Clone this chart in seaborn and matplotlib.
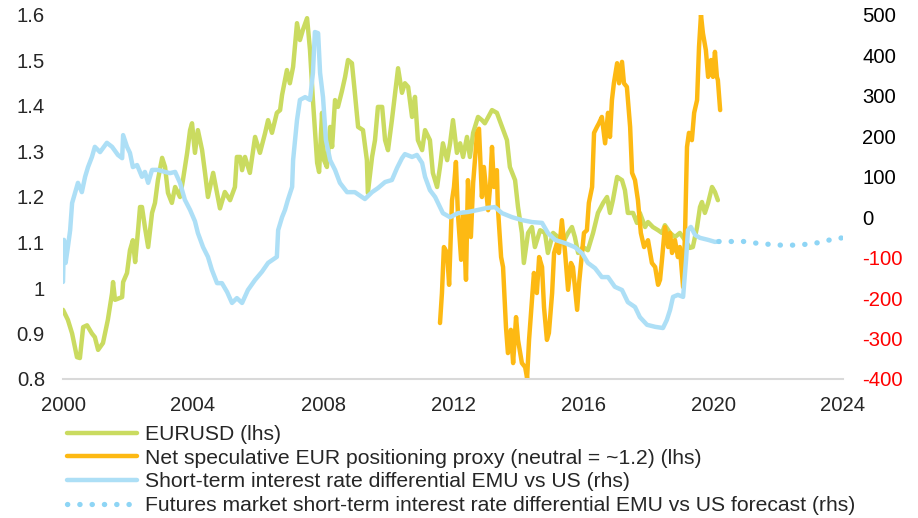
import matplotlib
matplotlib.use("Agg")
import matplotlib.pyplot as plt
import seaborn as sns
import numpy as np
from matplotlib.lines import Line2D
from matplotlib.ticker import FuncFormatter, MultipleLocator

# Datos (años decimales)
eurusd_year = [2000.00, 2000.15, 2000.28, 2000.43, 2000.52, 2000.62, 2000.74, 2000.89, 2000.98, 2001.08,
               2001.23, 2001.38, 2001.51, 2001.54, 2001.60, 2001.82, 2001.85, 2001.97, 2002.06, 2002.15,
               2002.22, 2002.31, 2002.37, 2002.43, 2002.52, 2002.62, 2002.74, 2002.83, 2002.92, 2003.05,
               2003.14, 2003.23, 2003.35, 2003.45, 2003.60, 2003.69, 2003.82, 2003.91, 2003.97, 2004.06,
               2004.15, 2004.28, 2004.37, 2004.46, 2004.62, 2004.74, 2004.83, 2004.98, 2005.14, 2005.29,
               2005.35, 2005.45, 2005.51, 2005.60, 2005.75, 2005.91, 2006.06, 2006.22, 2006.31, 2006.43,
               2006.58, 2006.68, 2006.74, 2006.89, 2006.98, 2007.08, 2007.20, 2007.29, 2007.38, 2007.51,
               2007.60, 2007.69, 2007.82, 2007.88, 2007.97, 2008.03, 2008.12, 2008.22, 2008.28, 2008.37,
               2008.46, 2008.58, 2008.68, 2008.77, 2008.89, 2008.98, 2009.08, 2009.23, 2009.35, 2009.38,
               2009.51, 2009.60, 2009.69, 2009.82, 2009.91, 2010.00, 2010.12, 2010.22, 2010.31, 2010.43,
               2010.52, 2010.62, 2010.74, 2010.83, 2010.92, 2011.05, 2011.14, 2011.29, 2011.38, 2011.51,
               2011.60, 2011.69, 2011.82, 2011.91, 2012.00, 2012.12, 2012.22, 2012.31, 2012.43, 2012.52,
               2012.62, 2012.77, 2012.89, 2012.98, 2013.20, 2013.35, 2013.51, 2013.66, 2013.75, 2013.91,
               2014.00, 2014.12, 2014.18, 2014.31, 2014.43, 2014.52, 2014.68, 2014.83, 2014.92, 2015.08,
               2015.23, 2015.38, 2015.54, 2015.66, 2015.75, 2015.85, 2016.00, 2016.15, 2016.31, 2016.46,
               2016.62, 2016.74, 2016.83, 2016.92, 2017.05, 2017.20, 2017.29, 2017.38, 2017.54, 2017.66,
               2017.75, 2017.91, 2018.00, 2018.15, 2018.31, 2018.43, 2018.52, 2018.68, 2018.83, 2018.98,
               2019.14, 2019.29, 2019.38, 2019.51, 2019.60, 2019.66, 2019.75, 2019.85, 2019.97, 2020.06,
               2020.15]
eurusd = [0.952, 0.930, 0.900, 0.848, 0.846, 0.914, 0.918, 0.900, 0.892, 0.864,
          0.879, 0.930, 0.989, 1.013, 0.974, 0.980, 1.013, 1.033, 1.083, 1.105,
          1.057, 1.127, 1.178, 1.178, 1.134, 1.090, 1.165, 1.187, 1.237, 1.286,
          1.266, 1.209, 1.187, 1.222, 1.200, 1.237, 1.297, 1.347, 1.362, 1.297,
          1.347, 1.303, 1.253, 1.200, 1.253, 1.209, 1.175, 1.211, 1.193, 1.222,
          1.288, 1.288, 1.259, 1.288, 1.253, 1.332, 1.297, 1.341, 1.369, 1.341,
          1.385, 1.391, 1.424, 1.479, 1.450, 1.486, 1.582, 1.545, 1.567, 1.593,
          1.523, 1.413, 1.275, 1.255, 1.385, 1.281, 1.266, 1.354, 1.310, 1.413,
          1.398, 1.432, 1.464, 1.501, 1.494, 1.429, 1.354, 1.347, 1.281, 1.209,
          1.288, 1.325, 1.398, 1.398, 1.325, 1.303, 1.369, 1.429, 1.483, 1.429,
          1.450, 1.442, 1.376, 1.420, 1.325, 1.303, 1.347, 1.325, 1.253, 1.222,
          1.266, 1.318, 1.281, 1.318, 1.369, 1.297, 1.318, 1.288, 1.332, 1.288,
          1.341, 1.376, 1.369, 1.362, 1.391, 1.385, 1.354, 1.325, 1.266, 1.237,
          1.178, 1.121, 1.055, 1.121, 1.134, 1.090, 1.127, 1.121, 1.077, 1.121,
          1.112, 1.099, 1.121, 1.134, 1.112, 1.077, 1.090, 1.083, 1.121, 1.165,
          1.187, 1.200, 1.165, 1.193, 1.244, 1.237, 1.215, 1.165, 1.165, 1.143,
          1.165, 1.134, 1.145, 1.134, 1.127, 1.121, 1.138, 1.121, 1.112, 1.121,
          1.105, 1.088, 1.090, 1.134, 1.178, 1.189, 1.165, 1.187, 1.222, 1.211,
          1.193]

posit_year = [2011.60, 2011.66, 2011.72, 2011.82, 2011.88, 2011.97, 2012.03, 2012.09, 2012.15, 2012.25,
              2012.31, 2012.40, 2012.46, 2012.55, 2012.62, 2012.74, 2012.80, 2012.89, 2012.95, 2013.08,
              2013.14, 2013.20, 2013.26, 2013.35, 2013.38, 2013.48, 2013.54, 2013.63, 2013.69, 2013.78,
              2013.85, 2013.94, 2014.00, 2014.12, 2014.22, 2014.28, 2014.34, 2014.43, 2014.49, 2014.58,
              2014.65, 2014.74, 2014.80, 2014.89, 2014.95, 2015.05, 2015.11, 2015.20, 2015.26, 2015.35,
              2015.45, 2015.54, 2015.63, 2015.69, 2015.82, 2015.88, 2015.97, 2016.03, 2016.12, 2016.18,
              2016.28, 2016.34, 2016.43, 2016.49, 2016.58, 2016.68, 2016.77, 2016.83, 2016.89, 2016.95,
              2017.05, 2017.11, 2017.20, 2017.26, 2017.35, 2017.45, 2017.51, 2017.60, 2017.69, 2017.78,
              2017.88, 2018.00, 2018.12, 2018.22, 2018.31, 2018.37, 2018.43, 2018.52, 2018.62, 2018.68,
              2018.74, 2018.83, 2018.92, 2018.98, 2019.08, 2019.14, 2019.20, 2019.26, 2019.35, 2019.42,
              2019.51, 2019.57, 2019.63, 2019.69, 2019.78, 2019.85, 2019.94, 2020.00, 2020.06, 2020.12,
              2020.15, 2020.22]
posit = [0.923, 0.989, 1.090, 1.077, 1.007, 1.193, 1.222, 1.277, 1.165, 1.062,
         1.165, 1.018, 1.237, 1.112, 1.231, 1.340, 1.350, 1.200, 1.266, 1.171,
         1.222, 1.310, 1.222, 1.259, 1.178, 1.068, 1.046, 0.914, 0.857, 0.908,
         0.835, 0.936, 0.886, 0.835, 0.826, 0.802, 0.886, 0.974, 1.033, 0.989,
         1.068, 1.046, 0.958, 0.886, 0.901, 0.989, 1.077, 1.099, 1.077, 1.149,
         1.077, 0.996, 1.055, 1.046, 0.952, 1.011, 1.077, 1.121, 1.127, 1.187,
         1.222, 1.341, 1.354, 1.362, 1.376, 1.318, 1.385, 1.332, 1.413, 1.450,
         1.494, 1.450, 1.497, 1.450, 1.442, 1.354, 1.253, 1.237, 1.193, 1.121,
         1.090, 1.105, 1.055, 1.046, 1.007, 1.018, 1.062, 1.134, 1.090, 1.121,
         1.077, 1.105, 1.068, 1.090, 1.002, 1.121, 1.310, 1.341, 1.325, 1.385,
         1.413, 1.530, 1.600, 1.560, 1.523, 1.464, 1.501, 1.464, 1.519, 1.464,
         1.457, 1.391]

diff_year = [2000.00, 2000.03, 2000.08, 2000.15, 2000.22, 2000.28, 2000.37, 2000.46, 2000.58, 2000.68,
             2000.77, 2000.89, 2000.98, 2001.14, 2001.35, 2001.51, 2001.69, 2001.82, 2001.85, 2001.97,
             2002.06, 2002.15, 2002.28, 2002.43, 2002.52, 2002.62, 2002.74, 2002.92, 2003.14, 2003.29,
             2003.45, 2003.60, 2003.75, 2003.91, 2004.06, 2004.15, 2004.31, 2004.46, 2004.58, 2004.74,
             2004.89, 2005.05, 2005.20, 2005.35, 2005.51, 2005.69, 2005.91, 2006.12, 2006.31, 2006.58,
             2006.62, 2006.74, 2006.83, 2006.92, 2007.05, 2007.08, 2007.20, 2007.29, 2007.45, 2007.60,
             2007.69, 2007.75, 2007.85, 2007.91, 2008.00, 2008.09, 2008.22, 2008.37, 2008.52, 2008.74,
             2008.98, 2009.29, 2009.51, 2009.69, 2009.91, 2010.12, 2010.28, 2010.43, 2010.52, 2010.74,
             2010.89, 2011.05, 2011.14, 2011.29, 2011.45, 2011.54, 2011.69, 2011.91, 2012.15, 2012.46,
             2012.77, 2013.05, 2013.29, 2013.51, 2013.82, 2014.12, 2014.43, 2014.74, 2014.92, 2015.14,
             2015.45, 2015.75, 2015.97, 2016.15, 2016.37, 2016.58, 2016.77, 2016.98, 2017.20, 2017.38,
             2017.60, 2017.75, 2017.97, 2018.22, 2018.46, 2018.58, 2018.68, 2018.77, 2018.92, 2019.08,
             2019.17, 2019.23, 2019.32, 2019.45, 2019.60, 2019.85, 2020.06, 2020.18]
diff = [-160, -56, -113, -74, -32, 35, 60, 85, 62, 100,
        124, 149, 174, 161, 184, 174, 154, 146, 203, 174,
        159, 124, 129, 100, 112, 85, 117, 117, 112, 109,
        112, 85, 43, 18, -10, -39, -74, -98, -130, -163,
        -163, -185, -212, -200, -212, -180, -155, -135, -113, -98,
        -32, 0, 18, 43, 75, 141, 240, 290, 297, 290,
        357, 458, 455, 357, 297, 191, 141, 117, 85, 62,
        62, 45, 62, 72, 87, 92, 122, 146, 156, 149,
        154, 134, 100, 67, 50, 35, 10, 0, 10, 13,
        18, 23, 25, 10, 0, -7, -12, -14, -39, -56,
        -64, -74, -89, -113, -126, -148, -148, -172, -180, -210,
        -222, -247, -266, -271, -274, -254, -229, -197, -192, -197,
        -106, -32, -24, -44, -51, -56, -61, -60]

fcst_year = [2020.18, 2020.58, 2020.95, 2021.32, 2021.72, 2022.09, 2022.49, 2022.86, 2023.23, 2023.60, 2023.97]
fcst = [-60, -60, -60, -64, -67, -69, -69, -67, -63, -56, -51]

labels = ["EURUSD (lhs)",
          "Net speculative EUR positioning proxy (neutral = ~1.2) (lhs)",
          "Short-term interest rate differential EMU vs US (rhs)",
          "Futures market short-term interest rate differential EMU vs US forecast (rhs)"]

c_green = "#CADB60"
c_orange = "#FDB913"
c_blue = "#ADDFF6"
c_dot = "#8ED5F5"

# Estilo
sns.set_style("white")
plt.rcParams['font.family'] = ['Liberation Sans', 'DejaVu Sans']
fs_tick = 14.6
fs_leg = 15.2

fig = plt.figure(figsize=(9.18, 5.18), dpi=100)
ax = fig.add_axes([63/918, 1 - 379/518, 780/918, 364/518])
ax2 = ax.twinx()

lw = 3.2
sns.lineplot(x=eurusd_year, y=eurusd, ax=ax, color=c_green, lw=lw, estimator=None, sort=False)
sns.lineplot(x=posit_year, y=posit, ax=ax, color=c_orange, lw=lw, estimator=None, sort=False)
sns.lineplot(x=diff_year, y=diff, ax=ax2, color=c_blue, lw=lw, estimator=None, sort=False)
dots = (0, (0.05, 2.28))
sns.lineplot(x=fcst_year, y=fcst, ax=ax2, color=c_dot, lw=3.8, estimator=None, sort=False)
# linea punteada para el pronóstico
fl = ax2.get_lines()[-1]
fl.set_linestyle(dots)
fl.set_dash_capstyle('round')

# Ejes
ax.set_xlim(2000, 2024)
ax.set_ylim(0.8, 1.6)
ax2.set_ylim(-400, 500)
ax.xaxis.set_major_locator(MultipleLocator(4))
ax.yaxis.set_major_locator(MultipleLocator(0.1))
ax2.yaxis.set_major_locator(MultipleLocator(100))
ax.yaxis.set_major_formatter(FuncFormatter(lambda v, p: f"{v:g}"))
ax2.yaxis.set_major_formatter(FuncFormatter(lambda v, p: f"{v:.0f}"))
ax.set_xlabel("")
ax.set_ylabel("")
ax2.set_ylabel("")

for a in (ax, ax2):
    for s in ("top", "left", "right"):
        a.spines[s].set_visible(False)
    a.spines["bottom"].set_color("#D9D9D9")
    a.spines["bottom"].set_linewidth(1.5)
    a.tick_params(length=0, labelsize=fs_tick)
ax.tick_params(axis='x', pad=12)
ax.tick_params(axis='y', pad=13)
ax2.tick_params(axis='y', pad=14)
ax2.spines["bottom"].set_visible(False)

fig.canvas.draw()
for t, v in zip(ax2.get_yticklabels(), ax2.get_yticks()):
    t.set_color("#FF0000" if v < 0 else "black")

# Leyenda
handles = [Line2D([], [], color=c_green, lw=lw),
           Line2D([], [], color=c_orange, lw=lw),
           Line2D([], [], color=c_blue, lw=lw),
           Line2D([], [], color=c_dot, lw=3.8, linestyle=dots, dash_capstyle='round')]
fig.legend(handles, labels, loc="upper left", bbox_to_anchor=(67/918, 1 - 425/518),
           frameon=False, fontsize=fs_leg, handlelength=3.3, handletextpad=0.38,
           labelspacing=0.22, borderpad=0, borderaxespad=0)

plt.savefig("out.png", dpi=100)
